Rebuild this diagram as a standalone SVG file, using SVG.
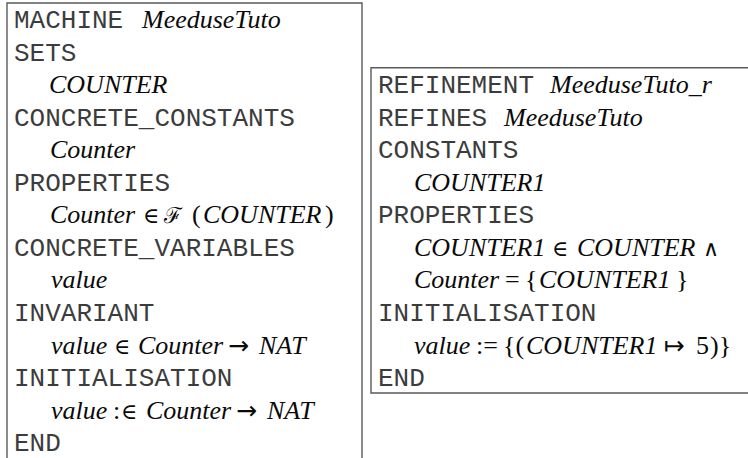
<svg xmlns="http://www.w3.org/2000/svg" width="748" height="458" viewBox="0 0 748 458">
<style>
.bg{fill:#ffffff}
.frame{fill:none;stroke:#5a5a5a;stroke-width:1.4}
.kw{font-family:"Liberation Mono","Courier New",monospace;font-size:26px;fill:#3c3c3c}
.id{font-family:"Liberation Serif","Times New Roman",serif;font-style:italic;font-size:26px;fill:#0a0a0a}
.op{font-family:"Liberation Serif","DejaVu Serif",serif;font-style:normal;font-size:26px;fill:#0a0a0a}
.sym{font-family:"DejaVu Serif","Liberation Serif",serif;font-style:normal;font-size:22px;fill:#0a0a0a}
.arr{font-family:"DejaVu Sans","Liberation Serif",sans-serif;font-style:normal;font-size:25px;fill:#0a0a0a}
</style>
<rect class="bg" x="0" y="0" width="748" height="458"/>

<g id="machine">
  <path class="frame" d="M7,460 V3 H362 V460"/>
  <text class="kw" x="14" y="28">MACHINE</text>
  <text class="id" x="142" y="28">MeeduseTuto</text>
  <text class="kw" x="14" y="60.5">SETS</text>
  <text class="id" x="49" y="93.1">COUNTER</text>
  <text class="kw" x="14" y="125.6">CONCRETE_CONSTANTS</text>
  <text class="id" x="50" y="158.2">Counter</text>
  <text class="kw" x="14" y="190.7">PROPERTIES</text>
  <text y="223.3"><tspan class="id" x="50">Counter</tspan><tspan class="sym" x="143">∈</tspan><tspan class="sym" x="164">ℱ</tspan><tspan class="op" x="192">(</tspan><tspan class="id" x="203">COUNTER</tspan><tspan class="op" x="325">)</tspan></text>
  <text class="kw" x="14" y="255.8">CONCRETE_VARIABLES</text>
  <text class="id" x="51" y="288.4">value</text>
  <text class="kw" x="14" y="320.9">INVARIANT</text>
  <text y="353.5"><tspan class="id" x="51">value</tspan><tspan class="sym" x="114">∈</tspan><tspan class="id" x="138">Counter</tspan><tspan class="arr" x="228">→</tspan><tspan class="id" x="259">NAT</tspan></text>
  <text class="kw" x="14" y="386">INITIALISATION</text>
  <text y="418.6"><tspan class="id" x="51">value</tspan><tspan class="op" x="113">:</tspan><tspan class="sym" x="121">∈</tspan><tspan class="id" x="146">Counter</tspan><tspan class="arr" x="236">→</tspan><tspan class="id" x="267">NAT</tspan></text>
  <text class="kw" x="14" y="451.1">END</text>
</g>

<g id="refinement">
  <path class="frame" d="M750,67.7 H371 V393 H750"/>
  <text class="kw" x="378" y="93.1">REFINEMENT</text>
  <text class="id" x="550" y="93.1">MeeduseTuto_r</text>
  <text class="kw" x="378" y="125.6">REFINES</text>
  <text class="id" x="504" y="125.6">MeeduseTuto</text>
  <text class="kw" x="378" y="158.2">CONSTANTS</text>
  <text class="id" x="414" y="190.7">COUNTER1</text>
  <text class="kw" x="378" y="223.3">PROPERTIES</text>
  <text y="255.8"><tspan class="id" x="414">COUNTER1</tspan><tspan class="sym" x="552">∈</tspan><tspan class="id" x="577">COUNTER</tspan><tspan class="sym" x="703">∧</tspan></text>
  <text y="288.4"><tspan class="id" x="414">Counter</tspan><tspan class="op" x="505">=</tspan><tspan class="op" x="525">{</tspan><tspan class="id" x="539">COUNTER1</tspan><tspan class="op" x="676">}</tspan></text>
  <text class="kw" x="378" y="320.9">INITIALISATION</text>
  <text y="353.5"><tspan class="id" x="414">value</tspan><tspan class="op" x="476">:=</tspan><tspan class="op" x="503">{(</tspan><tspan class="id" x="526">COUNTER1</tspan><tspan class="arr" x="664">↦</tspan><tspan class="op" x="696">5</tspan><tspan class="op" x="710">)}</tspan></text>
  <text class="kw" x="378" y="386">END</text>
</g>
</svg>
